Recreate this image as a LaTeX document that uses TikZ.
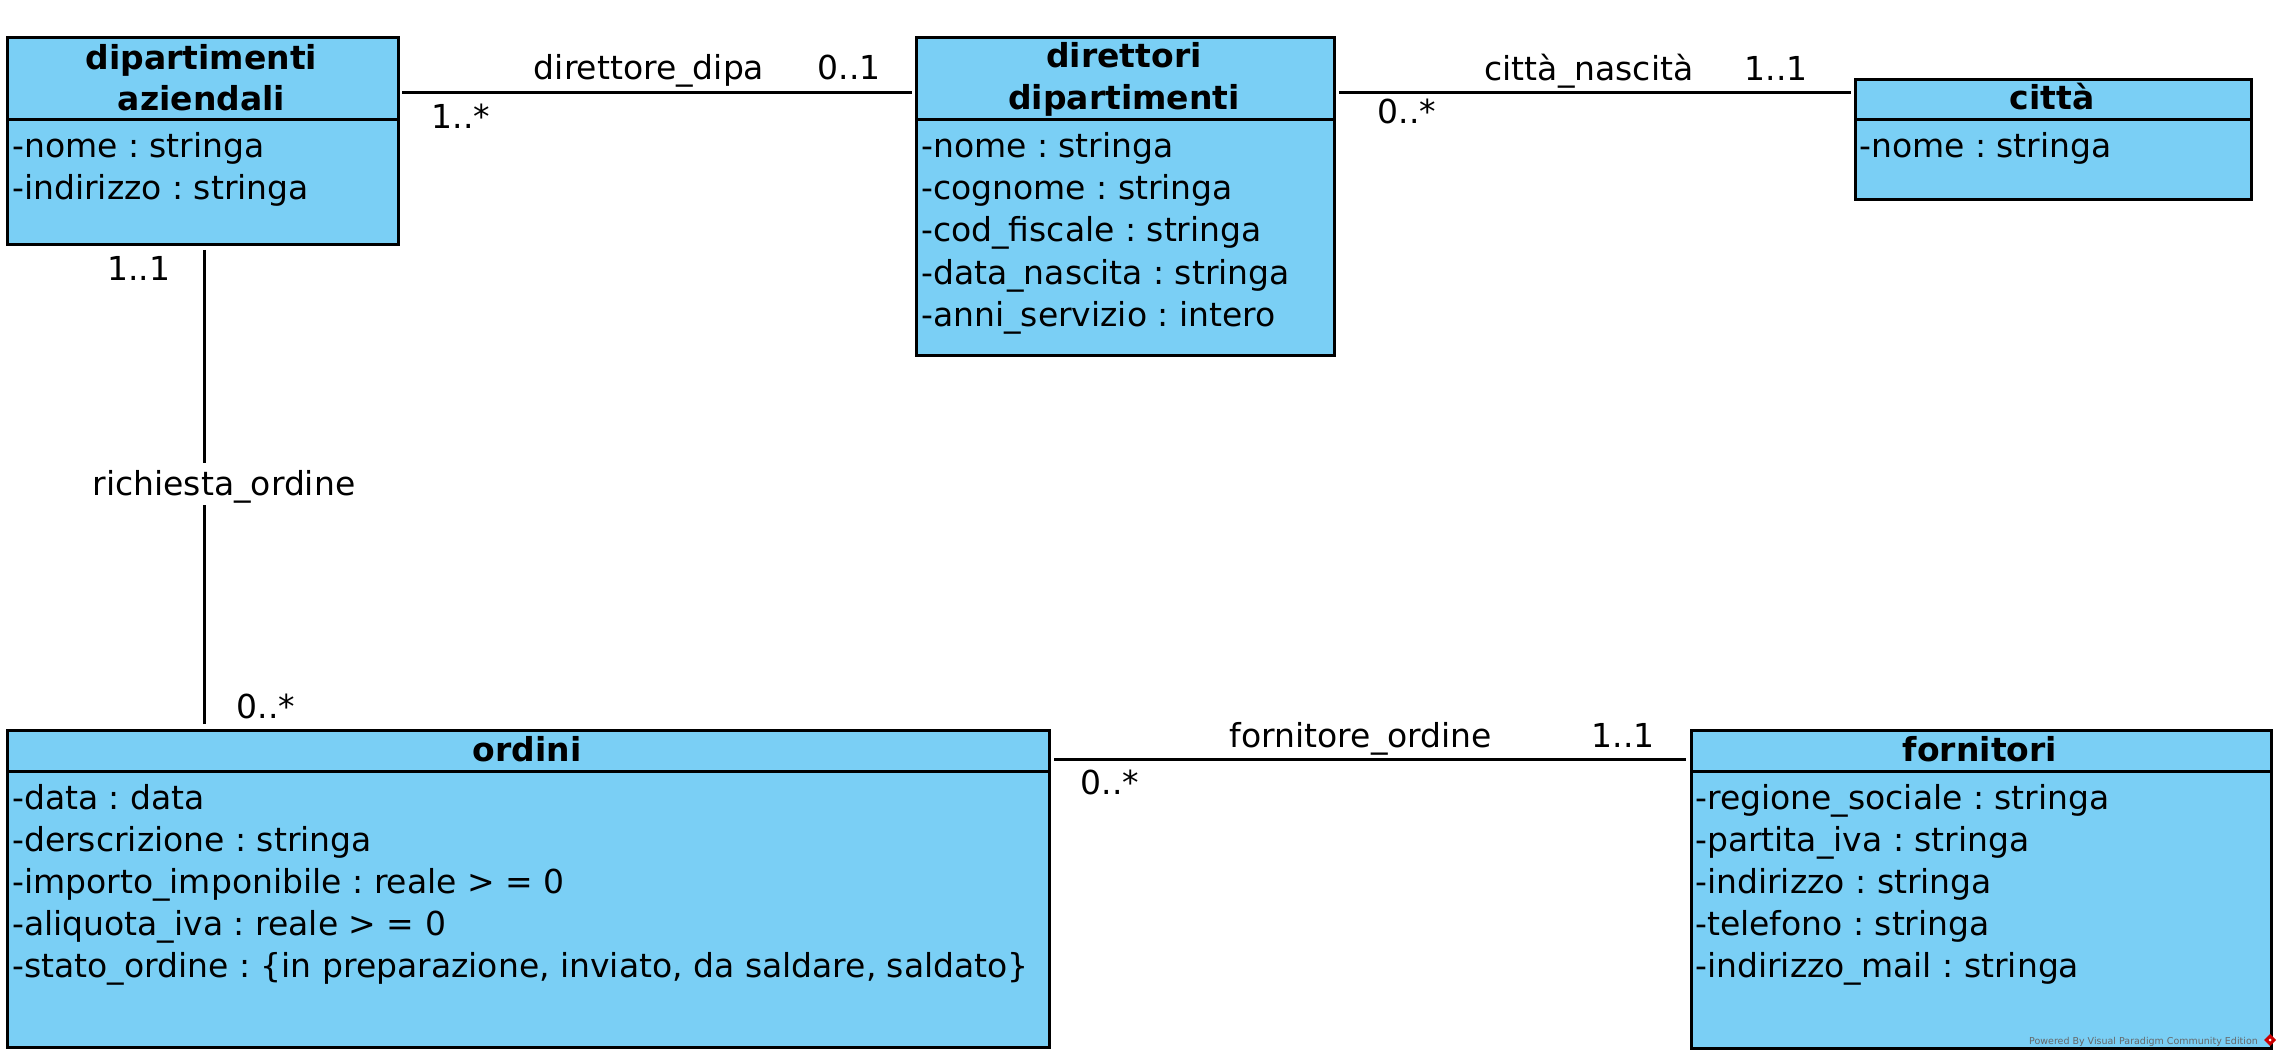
\documentclass[tikz,border=0pt]{standalone}
\usepackage{fontspec}
\setmainfont{DejaVu Sans}
\usetikzlibrary{calc}
\definecolor{classfill}{RGB}{122,207,245}
\frenchspacing
\begin{document}
\frenchspacing
\begin{tikzpicture}[x=1pt,y=-1pt,
  classbox/.style={draw=black, fill=classfill, line width=3pt, rectangle, inner sep=0pt, anchor=north west},
  sepline/.style={line width=3pt},
  assoc/.style={line width=3pt},
  title/.style={font=\fontsize{33}{40}\selectfont\bfseries, anchor=base, inner sep=0pt},
  attr/.style={font=\fontsize{33}{40}\selectfont, anchor=base west, inner sep=0pt},
  lbl/.style={font=\fontsize{33}{40}\selectfont, anchor=base, inner sep=0pt}]
\useasboundingbox (0,0) rectangle (2283,1059);

% ---- classes ----
\node[classbox, minimum width=391pt, minimum height=207pt] (dip) at (6,36) {};
\draw[sepline] ($(dip.north west)+(0,84)$) -- ($(dip.north east)+(0,84)$);
\node[title] (dipT1) at (201.5,70) {dipartimenti};
\node[title] (dipT2) at (201.5,111) {aziendali};
\node[attr] (dipA1) at (12,158) {-nome : stringa};
\node[attr] (dipA2) at (12,200) {-indirizzo : stringa};

\node[classbox, minimum width=418pt, minimum height=318pt] (dir) at (915,36) {};
\draw[sepline] ($(dir.north west)+(0,84)$) -- ($(dir.north east)+(0,84)$);
\node[title] (dirT1) at (1124,68) {direttori};
\node[title] (dirT2) at (1124,110) {dipartimenti};
\node[attr] (dirA1) at (921,158) {-nome : stringa};
\node[attr] (dirA2) at (921,200) {-cognome : stringa};
\node[attr] (dirA3) at (921,242) {-cod\_fiscale : stringa};
\node[attr] (dirA4) at (921,284) {-data\_nascita : stringa};
\node[attr] (dirA5) at (921,326) {-anni\_servizio : intero};

\node[classbox, minimum width=396pt, minimum height=120pt] (cit) at (1854,78) {};
\draw[sepline] ($(cit.north west)+(0,42)$) -- ($(cit.north east)+(0,42)$);
\node[title] (citT) at (2052,110) {città};
\node[attr] (citA1) at (1859,158) {-nome : stringa};

\node[classbox, minimum width=1042pt, minimum height=317pt] (ord) at (6,729) {};
\draw[sepline] ($(ord.north west)+(0,42)$) -- ($(ord.north east)+(0,42)$);
\node[title] (ordT) at (527,761) {ordini};
\node[attr] (ordA1) at (12,809) {-data : data};
\node[attr] (ordA2) at (12,851) {-derscrizione : stringa};
\node[attr] (ordA3) at (12,893) {-importo\_imponibile : reale > = 0};
\node[attr] (ordA4) at (12,935) {-aliquota\_iva : reale > = 0};
\node[attr] (ordA5) at (12,977) {-stato\_ordine : \{in preparazione, inviato, da saldare, saldato\}};

\node[classbox, minimum width=580pt, minimum height=318pt] (forn) at (1690,729) {};
\draw[sepline] ($(forn.north west)+(0,42)$) -- ($(forn.north east)+(0,42)$);
\node[title] (fornT) at (1980,761) {fornitori};
\node[attr] (fornA1) at (1695,809) {-regione\_sociale : stringa};
\node[attr] (fornA2) at (1695,851) {-partita\_iva : stringa};
\node[attr] (fornA3) at (1695,893) {-indirizzo : stringa};
\node[attr] (fornA4) at (1695,935) {-telefono : stringa};
\node[attr] (fornA5) at (1695,977) {-indirizzo\_mail : stringa};

% ---- associations ----
\draw[assoc] ($(dip.north east)+(2,57)$) -- ($(dir.north west)+(-3,57)$);
\node[lbl] (l1) at (649,80) {direttore\_dipa};
\node[lbl] (l1a) at (849,80) {0..1};
\node[lbl] (l1b) at (461,129) {1..*};

\draw[assoc] ($(dir.north east)+(3,57)$) -- ($(cit.north west)+(-3,15)$);
\node[lbl] (l2) at (1589,81) {città\_nascità};
\node[lbl] (l2a) at (1776,81) {1..1};
\node[lbl] (l2b) at (1407,124) {0..*};

\draw[assoc] ($(dip.south west)+(198,4)$) -- ($(dip.south west)+(198,217)$);
\draw[assoc] ($(ord.north west)+(198,-5)$) -- ($(ord.north west)+(198,-224)$);
\node[lbl] (l3) at (224,495) {richiesta\_ordine};
\node[lbl] (l3a) at (139,280) {1..1};
\node[lbl] (l3b) at (266,718) {0..*};

\draw[assoc] ($(ord.north east)+(3,30)$) -- ($(forn.north west)+(-4,30)$);
\node[lbl] (l4) at (1361,747) {fornitore\_ordine};
\node[lbl] (l4a) at (1623,747) {1..1};
\node[lbl] (l4b) at (1110,794) {0..*};

% ---- watermark ----
\node[font=\fontsize{9.5}{10}\selectfont, text=black!60, anchor=base east, inner sep=0pt] (wm) at (2258,1044) {Powered By Visual Paradigm Community Edition};
\fill[red!80!black] (2270,1034) -- (2276,1040) -- (2270,1046) -- (2264,1040) -- cycle;
\fill[white] (2270,1040) circle (1.5);
\end{tikzpicture}
\end{document}
